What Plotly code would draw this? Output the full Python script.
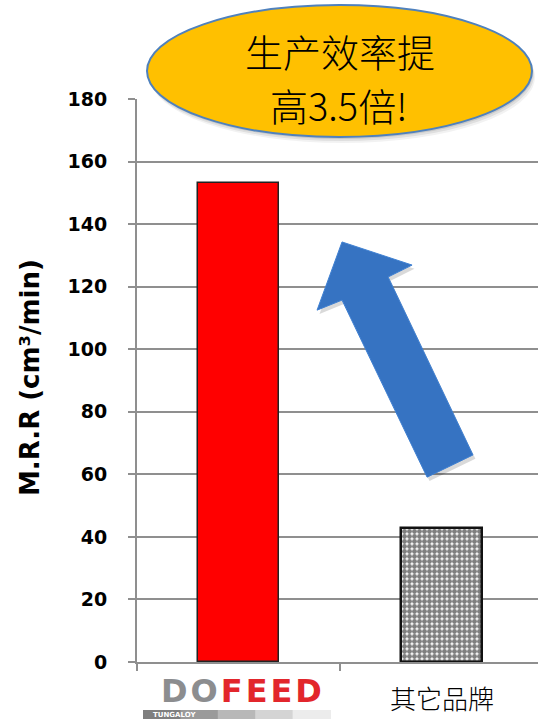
import plotly.graph_objects as go

# Data
categories = ["DOFEED", "其它品牌"]
mrr_values = [153, 43]
y_ticks = [0, 20, 40, 60, 80, 100, 120, 140, 160, 180]
y_title = "M.R.R (cm³/min)"
callout_lines = ["生产效率提", "高3.5倍!"]

# Layout geometry (pixels of a 538 x 719 canvas)
W, H = 538, 719
M_L, M_R, M_T, M_B = 137, 0, 99, 57
plot_w = W - M_L - M_R
cat_px = 203  # pixel width of one category slot
x_max = -0.5 + plot_w / cat_px

GRID = "#8f8f8f"

# Decorative arrow outline in data units (category index, M.R.R)
arrow_pts = [
    (0.510, 134.3), (0.855, 126.9), (0.737, 123.1), (1.155, 66.2),
    (0.929, 59.1), (0.510, 115.7), (0.387, 112.5),
]


def path_from(pts, dx=0.0, dy=0.0):
    return "M " + " L ".join(f"{x + dx},{y + dy}" for x, y in pts) + " Z"


xs = list(range(len(categories)))

fig = go.Figure()
fig.add_trace(go.Bar(
    x=[xs[0]], y=[mrr_values[0]], width=0.4,
    marker=dict(color="#ff0000", line=dict(color="#222222", width=1.5)),
    hoverinfo="skip",
))
fig.add_trace(go.Bar(
    x=[xs[1]], y=[mrr_values[1]], width=0.4,
    marker=dict(
        color="white",
        line=dict(color="#111111", width=2.5),
        pattern=dict(shape=".", fgcolor="black", bgcolor="white",
                     size=5, solidity=0.75),
    ),
    hoverinfo="skip",
))


def px_x(px):
    return (px - M_L) / plot_w


def px_y(py):
    return (H - M_B - py) / (H - M_T - M_B)


shapes = []
# arrow shadow + arrow
shapes.append(dict(type="path", xref="x", yref="y",
                   path=path_from(arrow_pts, 0.012, -1.2),
                   fillcolor="rgba(0,0,0,0.15)", line=dict(width=0),
                   layer="above"))
shapes.append(dict(type="path", xref="x", yref="y",
                   path=path_from(arrow_pts),
                   fillcolor="#3673c2", line=dict(color="#3f80d2", width=1),
                   layer="above"))
# callout ellipse soft shadow + ellipse
for off, a in [(6, 0.05), (4, 0.08), (2, 0.10)]:
    shapes.append(dict(type="circle", xref="paper", yref="paper",
                       x0=px_x(147 + off * 0.5), x1=px_x(532 + off * 0.5),
                       y0=px_y(137 + off), y1=px_y(5 + off),
                       fillcolor=f"rgba(0,0,0,{a})", line=dict(width=0),
                       layer="above"))
shapes.append(dict(type="circle", xref="paper", yref="paper",
                   x0=px_x(147), x1=px_x(532), y0=px_y(137), y1=px_y(5),
                   fillcolor="#ffc000", line=dict(color="#4f81bd", width=2),
                   layer="above"))
# logo sub-bar with fading grey
bar_cols = ["#7f7f7f", "#9a9a9a", "#b8b8b8", "#d4d4d4", "#ececec"]
seg = (330 - 143) / len(bar_cols)
for i, c in enumerate(bar_cols):
    shapes.append(dict(type="rect", xref="paper", yref="paper",
                       x0=px_x(143 + i * seg), x1=px_x(143 + (i + 1) * seg + 1),
                       y0=px_y(719), y1=px_y(710),
                       fillcolor=c, line=dict(width=0), layer="above"))

callout_font = dict(family="Noto Sans CJK SC", size=38, color="black",
                    weight=300)

annotations = [
    dict(text=f"<b>{y_title}</b>", xref="paper", yref="paper",
         x=px_x(30), y=px_y(378), textangle=-90, showarrow=False,
         xanchor="center", yanchor="middle",
         font=dict(family="DejaVu Sans", size=26, color="black")),
    dict(text=callout_lines[0], xref="paper", yref="paper",
         x=px_x(340), y=px_y(51), showarrow=False,
         xanchor="center", yanchor="middle", font=callout_font),
    dict(text=callout_lines[1], xref="paper", yref="paper",
         x=px_x(338), y=px_y(104), showarrow=False,
         xanchor="center", yanchor="middle", font=callout_font),
    # brand logo label
    dict(text=("<b><span style='color:#8c8d8f;letter-spacing:3px'>"
               + categories[0][:2] + "</span>"
               + "<span style='color:#e2262c;letter-spacing:3px'>"
               + categories[0][2:] + "</span></b>"),
         xref="x", yref="paper", x=xs[0], y=px_y(691), xshift=4,
         showarrow=False, xanchor="center", yanchor="middle",
         font=dict(family="DejaVu Sans", size=32)),
    dict(text="<b>TUNGALOY</b>", xref="paper", yref="paper",
         x=px_x(174), y=px_y(715), showarrow=False,
         xanchor="center", yanchor="middle",
         font=dict(family="DejaVu Sans", size=7, color="white")),
    dict(text=categories[1], xref="x", yref="paper", x=xs[1], y=px_y(697),
         showarrow=False, xanchor="center", yanchor="middle",
         font=dict(family="Noto Sans CJK SC", size=26, color="black",
                   weight=300)),
]

fig.update_layout(
    width=W, height=H,
    margin=dict(l=M_L, r=M_R, t=M_T, b=M_B),
    paper_bgcolor="white", plot_bgcolor="white",
    showlegend=False, bargap=0,
    shapes=shapes, annotations=annotations,
    xaxis=dict(range=[-0.5, x_max], showgrid=False, zeroline=False,
               showline=True, linecolor=GRID, linewidth=2,
               tickvals=[-0.5, 0.5, 1.5], ticks="outside", ticklen=7,
               tickwidth=2, tickcolor=GRID, showticklabels=False,
               fixedrange=True),
    yaxis=dict(range=[0, 180], tickvals=y_ticks,
               ticktext=[f"<b>{v}</b>" for v in y_ticks],
               showgrid=True, gridcolor=GRID, gridwidth=2, zeroline=False,
               showline=True, linecolor=GRID, linewidth=2,
               ticks="outside", ticklen=7, tickwidth=2, tickcolor=GRID,
               ticklabelstandoff=17,
               tickfont=dict(family="DejaVu Sans", size=19, color="black"),
               fixedrange=True),
)

fig.write_html("out.html", config={"displayModeBar": False})
